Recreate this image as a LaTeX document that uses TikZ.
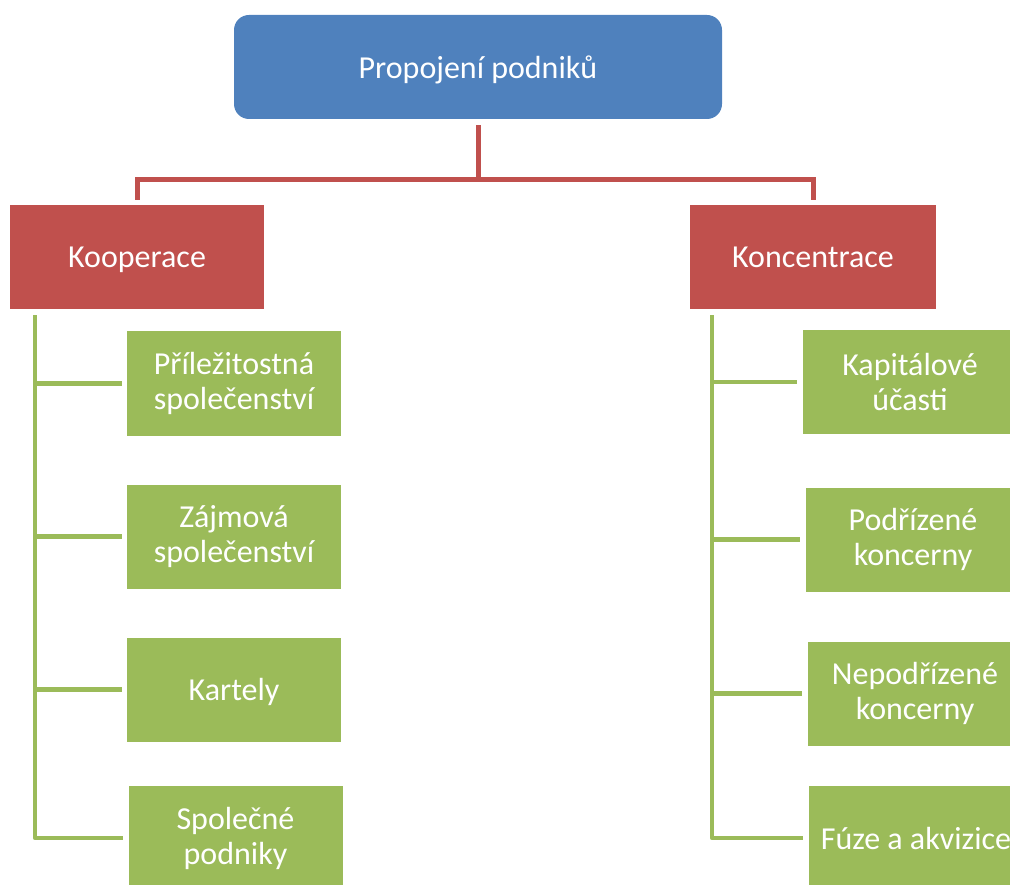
\documentclass[tikz,border=0pt]{standalone}
\usepackage{fontspec}
\setmainfont{Carlito}
\definecolor{topblue}{HTML}{4F81BD}
\definecolor{branchred}{HTML}{C0504D}
\definecolor{leafgreen}{HTML}{9BBB59}
\begin{document}
\begin{tikzpicture}[x=1pt,y=-1pt,
  every node/.style={inner sep=0pt, text=white, align=center,
    font=\fontsize{32}{35}\selectfont},
  oneline/.style={text depth=0pt},
  rootbox/.style={fill=topblue, rounded corners=15pt, oneline,
    minimum width=488pt, minimum height=104pt},
  branchbox/.style={fill=branchred, oneline, minimum height=104pt},
  leafbox/.style={fill=leafgreen, minimum height=104pt, minimum width=214pt},
  redline/.style={draw=branchred, line width=5pt},
  greenline/.style={draw=leafgreen, line width=4.5pt, line join=round}]
\useasboundingbox (0,0) rectangle (1010,885);

% root and the two branches
\node[rootbox] (root) at (478,67) {Propojení podniků};
\node[branchbox, minimum width=254pt] (koop) at (137,257) {Kooperace};
\node[branchbox, minimum width=246pt] (konc) at (813,257) {Koncentrace};

% cooperation forms
\node[leafbox] (k1) at (234,383.5) {Příležitostná\\společenství};
\node[leafbox] (k2) at (234,536.5) {Zájmová\\společenství};
\node[leafbox, oneline] (k3) at (234,689.5) {Kartely};
\node[leafbox] (k4) at (235.5,838) {Společné\\podniky};

% concentration forms
\node[leafbox] (c1) at (910,382) {Kapitálové\\účasti};
\node[leafbox] (c2) at (913,539.5) {Podřízené\\koncerny};
\node[leafbox] (c3) at (915,693.5) {Nepodřízené\\koncerny};
\node[leafbox, oneline] (c4) at (916,838) {Fúze a akvizice};

% root to branches
\draw[redline, shorten <=6pt, shorten >=5pt] (root.south) -- ++(0,60) -| (koop.north);
\draw[redline, shorten <=6pt, shorten >=5pt] (root.south) -- ++(0,60) -| (konc.north);

% branch to leaves
\foreach \n in {k1,k2,k3,k4}
  \draw[greenline, shorten <=6pt, shorten >=5pt] ([xshift=-102pt]koop.south) |- (\n.west);
\foreach \n in {c1,c2,c3,c4}
  \draw[greenline, shorten <=6pt, shorten >=6pt] ([xshift=-101pt]konc.south) |- (\n.west);
\end{tikzpicture}
\end{document}
